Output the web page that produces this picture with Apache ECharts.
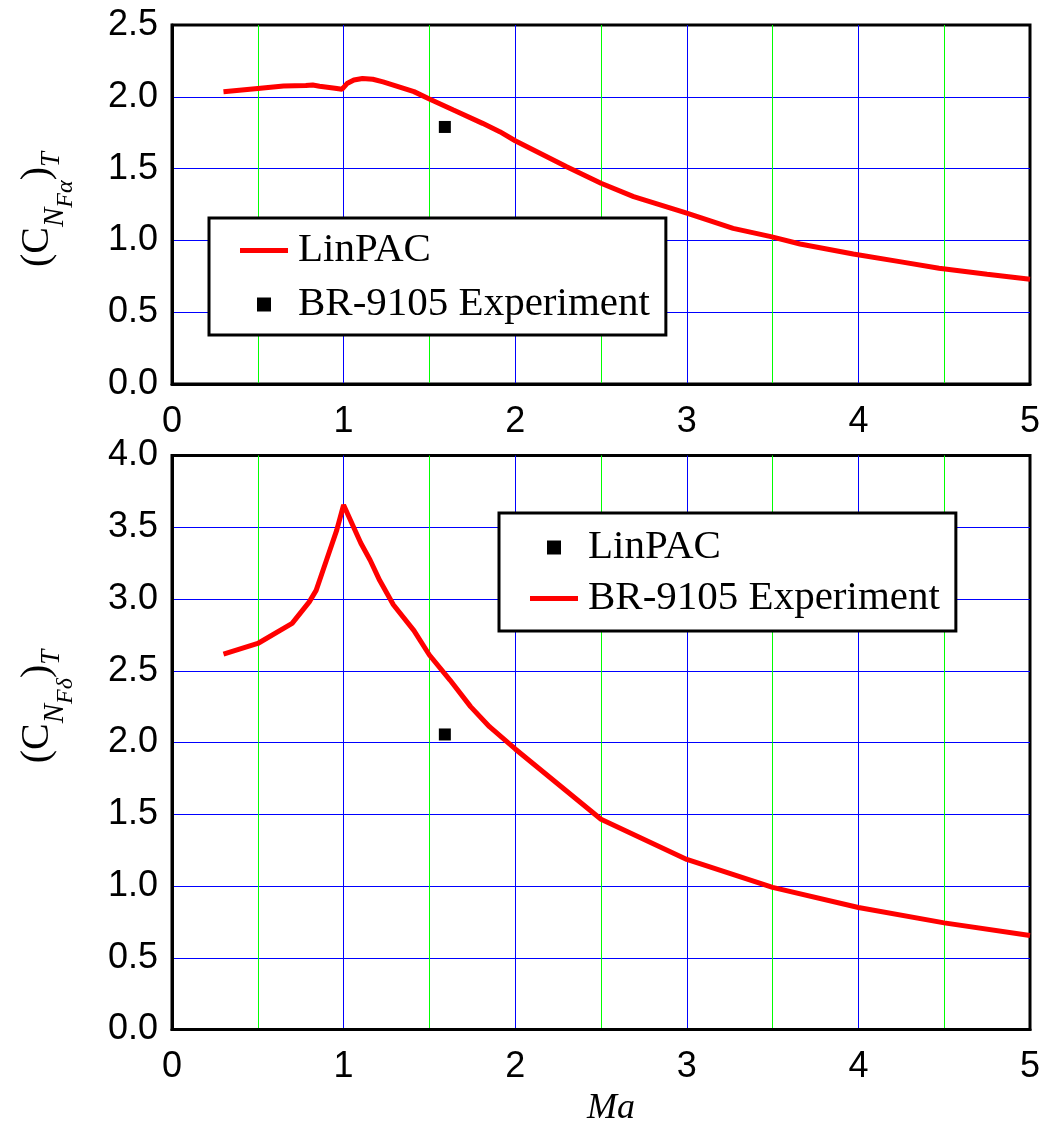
<!DOCTYPE html>
<html><head><meta charset="utf-8">
<script src="https://cdn.jsdelivr.net/npm/echarts@6/dist/echarts.min.js"></script>
<style>html,body{margin:0;padding:0;background:#fff}#c{width:1044px;height:1122px}</style>
</head><body><div id="c"></div>
<script>
// ---- data ----
const xTickLabels = ['0','1','2','3','4','5'];
const yTopTickLabels = ['0.0','0.5','1.0','1.5','2.0','2.5'];
const yBotTickLabels = ['0.0','0.5','1.0','1.5','2.0','2.5','3.0','3.5','4.0'];

// Top panel: (C_N_F alpha)_T
const topLinMa  = [0.30,0.50,0.65,0.78,0.82,0.86,0.95,0.99,1.02,1.06,1.11,1.17,1.23,1.29,1.41,1.50,1.64,1.81,1.91,2.00,2.30,2.50,2.69,3.00,3.27,3.49,3.66,3.97,4.24,4.47,4.75,5.00];
const topLinVal = [2.035,2.058,2.075,2.078,2.082,2.074,2.060,2.052,2.092,2.117,2.128,2.122,2.104,2.082,2.036,1.985,1.908,1.815,1.757,1.694,1.513,1.398,1.305,1.190,1.084,1.026,0.975,0.905,0.852,0.806,0.765,0.730];
const topExpMa  = [1.59];
const topExpVal = [1.79];

// Bottom panel: (C_N_F delta)_T
const botLinMa  = [0.30,0.50,0.70,0.80,0.84,0.90,0.96,1.00,1.10,1.155,1.21,1.29,1.41,1.50,1.62,1.74,1.85,2.00,2.50,3.00,3.50,4.00,4.50,5.00];
const botLinVal = [2.616,2.69,2.83,2.98,3.06,3.27,3.48,3.655,3.39,3.27,3.13,2.96,2.78,2.61,2.435,2.25,2.11,1.955,1.465,1.185,0.99,0.85,0.743,0.655];
const botExpMa  = [1.59];
const botExpVal = [2.056];

const pairs = (xs, ys) => xs.map((x, i) => [x, ys[i]]);
const serif = "'Liberation Serif','Times New Roman',serif";
const sans = "'Liberation Sans',Arial,sans-serif";

function xAxisCfg(grid, withName) {
  return {
    type: 'value', gridIndex: grid, min: 0, max: 5, interval: 1,
    axisLine: {show: true, onZero: false, lineStyle: {color: '#000', width: 3}},
    axisTick: {show: false},
    axisLabel: {fontFamily: sans, fontSize: 36, color: '#000', margin: 20,
      formatter: v => xTickLabels[Math.round(v)]},
    splitLine: {show: true, showMinLine: false, showMaxLine: false, lineStyle: {color: '#0000ff', width: 1}},
    minorTick: {show: false, splitNumber: 2},
    minorSplitLine: {show: true, lineStyle: {color: '#00ff00', width: 1}},
    name: withName ? 'Ma' : '', nameLocation: 'middle', nameGap: 59,
    nameTextStyle: {fontFamily: serif, fontStyle: 'italic', fontSize: 36, color: '#000', padding: [0,0,0,20]}
  };
}
function richName(greek) {
  return '{p|(}{c|C}{n|N}{f|F' + greek + '}{p|)}{t|T}';
}
const richStyles = {
  p: {fontFamily: serif, fontSize: 40, color: '#000'},
  c: {fontFamily: serif, fontSize: 40, color: '#000'},
  n: {fontFamily: serif, fontStyle: 'italic', fontSize: 29, color: '#000', padding: [36,0,0,0]},
  f: {fontFamily: serif, fontStyle: 'italic', fontSize: 24, color: '#000', padding: [58,0,0,0]},
  t: {fontFamily: serif, fontStyle: 'italic', fontSize: 27, color: '#000', padding: [30,0,0,0]}
};
function yAxisCfg(grid, max, labels, greek, shiftPad) {
  return {
    type: 'value', gridIndex: grid, min: 0, max: max, interval: 0.5,
    axisLine: {show: true, onZero: false, lineStyle: {color: '#000', width: 3}},
    axisTick: {show: false},
    axisLabel: {fontFamily: sans, fontSize: 36, color: '#000', margin: 14,
      formatter: v => labels[Math.round(v * 2)]},
    splitLine: {show: true, showMinLine: false, showMaxLine: false, lineStyle: {color: '#0000ff', width: 1}},
    name: richName(greek), nameLocation: 'middle', nameRotate: 90, nameGap: 94,
    nameTextStyle: {rich: richStyles, padding: shiftPad}
  };
}

const squareIcon = 'path://M0,0L10,0L10,10L0,10Z';
const lineIcon = 'path://M0,0L48,0L48,5L0,5Z';
const legendBase = {
  orient: 'vertical', itemWidth: 48, itemHeight: 14,
  borderColor: '#000', borderWidth: 3, backgroundColor: '#fff',
  selectedMode: false, symbolKeepAspect: true,
  formatter: n => n.slice(2),
  textStyle: {fontFamily: serif, fontSize: 41, color: '#000', padding: [0,0,0,5]}
};

const option = {
  animation: false,
  backgroundColor: '#fff',
  grid: [
    {left: 172, top: 25, width: 858, height: 359, show: true, borderColor: '#000', borderWidth: 3, outerBoundsMode: 'none', containLabel: false},
    {left: 172, top: 455.5, width: 858, height: 574, show: true, borderColor: '#000', borderWidth: 3, outerBoundsMode: 'none', containLabel: false}
  ],
  xAxis: [xAxisCfg(0, false), xAxisCfg(1, true)],
  yAxis: [yAxisCfg(0, 2.5, yTopTickLabels, 'α', [0, 10, 0, 0]), yAxisCfg(1, 4, yBotTickLabels, 'δ', [0, 0, 0, 72])],
  legend: [
    Object.assign({}, legendBase, {left: 209, top: 218, itemGap: 13, padding: [12, 16, 10, 31],
      data: [{name: 'a:LinPAC', icon: lineIcon}, {name: 'a:BR-9105 Experiment', icon: squareIcon}]}),
    Object.assign({}, legendBase, {left: 499, top: 513, itemGap: 10, padding: [14, 16, 12, 31],
      data: [{name: 'b:LinPAC', icon: squareIcon}, {name: 'b:BR-9105 Experiment', icon: lineIcon}]})
  ],
  series: [
    {name: 'a:LinPAC', type: 'line', xAxisIndex: 0, yAxisIndex: 0, data: pairs(topLinMa, topLinVal),
      symbol: 'none', showSymbol: false, smooth: false, lineStyle: {color: '#ff0000', width: 5}, itemStyle: {color: '#ff0000'}, z: 3},
    {name: 'a:BR-9105 Experiment', type: 'scatter', xAxisIndex: 0, yAxisIndex: 0, data: pairs(topExpMa, topExpVal),
      symbol: 'rect', symbolSize: 12, itemStyle: {color: '#000', opacity: 1}, z: 4},
    {name: 'b:LinPAC', type: 'scatter', xAxisIndex: 1, yAxisIndex: 1, data: pairs(botExpMa, botExpVal),
      symbol: 'rect', symbolSize: 12, itemStyle: {color: '#000', opacity: 1}, z: 4},
    {name: 'b:BR-9105 Experiment', type: 'line', xAxisIndex: 1, yAxisIndex: 1, data: pairs(botLinMa, botLinVal),
      symbol: 'none', showSymbol: false, smooth: false, lineStyle: {color: '#ff0000', width: 5}, itemStyle: {color: '#ff0000'}, z: 3}
  ]
};
const chart = echarts.init(document.getElementById('c'), null, {renderer: 'canvas'});
chart.setOption(option);
</script>
</body></html>
